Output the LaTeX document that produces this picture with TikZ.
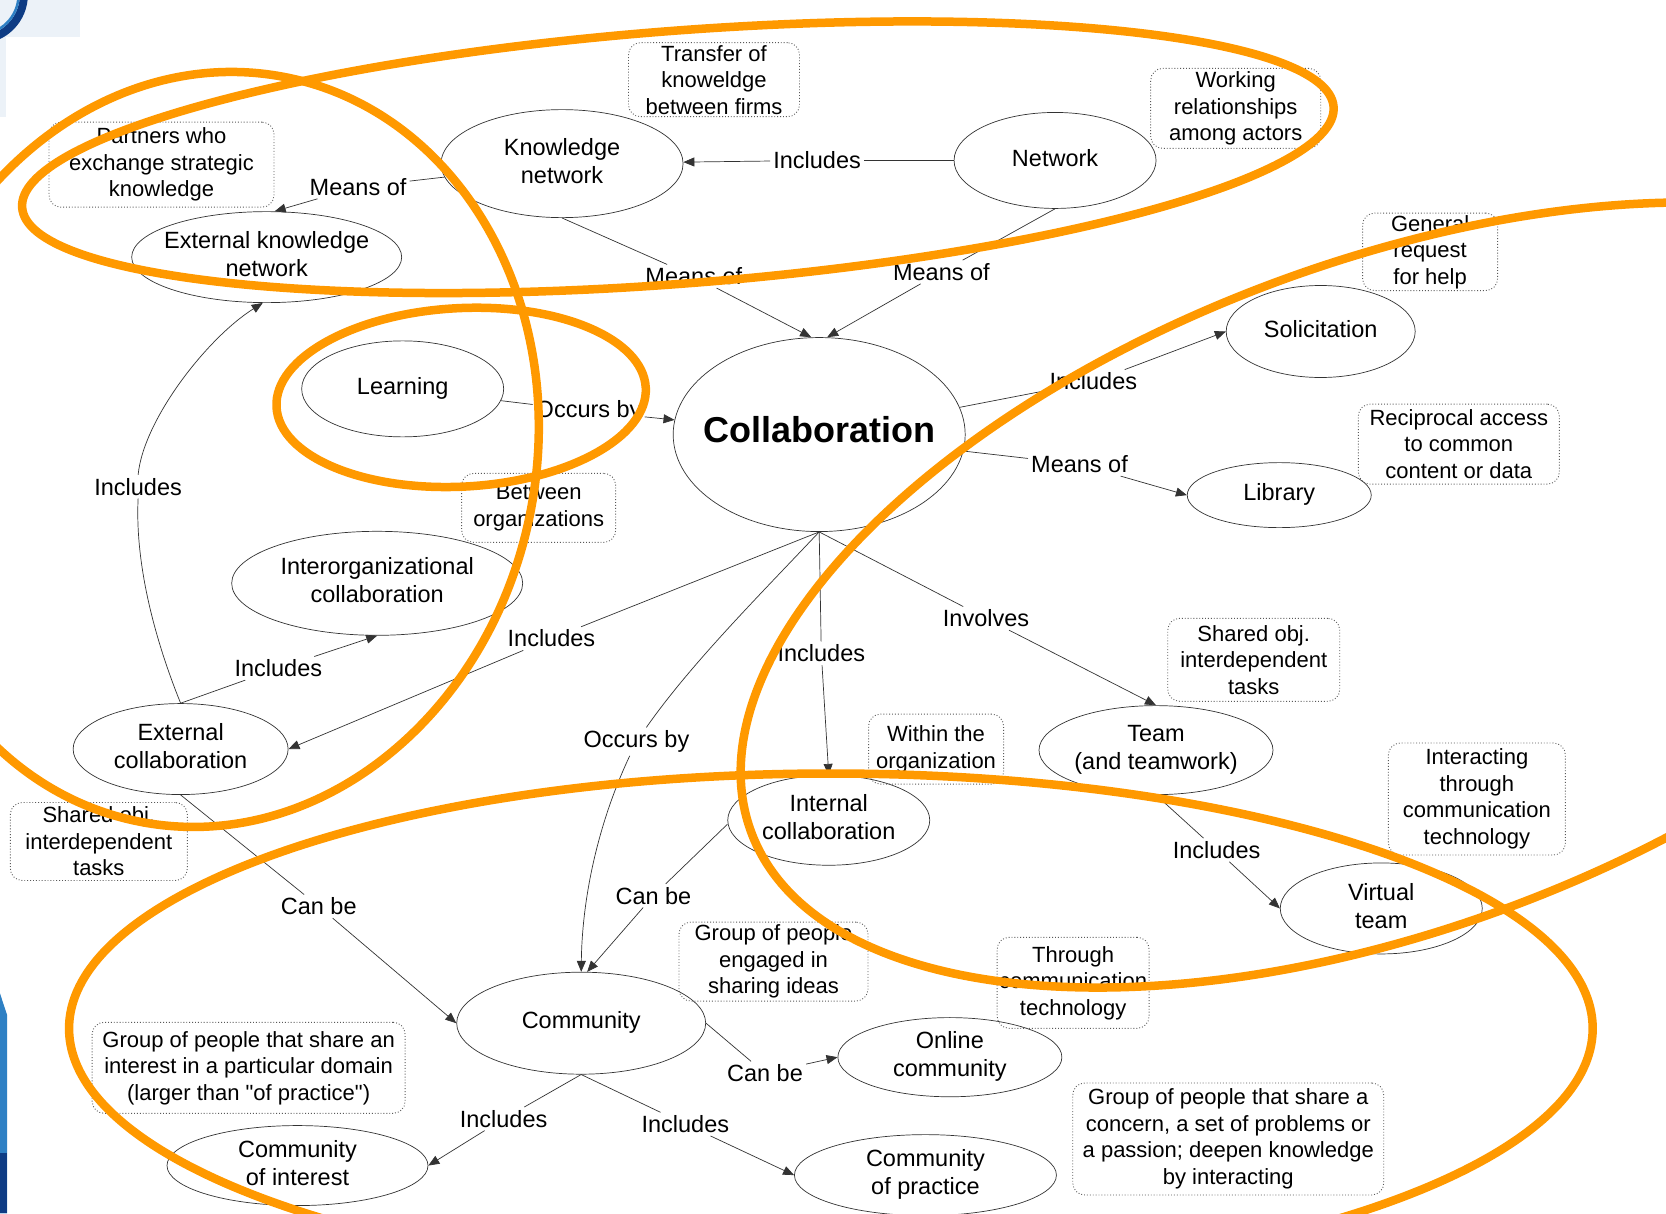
\documentclass[tikz,border=0pt]{standalone}
\usepackage{fontspec}
\setmainfont{Liberation Sans}[Ligatures=TeXOff]
\usetikzlibrary{shapes.geometric,arrows.meta}
\definecolor{hl}{RGB}{255,153,0}
\definecolor{navy}{RGB}{14,60,132}
\definecolor{midblue}{RGB}{46,128,196}
\definecolor{paleblue}{RGB}{236,242,248}
% centred multi-line text of zero width, so the ellipse keeps its set size
\newcommand{\ntext}[1]{\makebox[0pt]{\begin{tabular}{@{}c@{}}#1\end{tabular}}}

\begin{document}
\begin{tikzpicture}[x=1.0625pt,y=-1.0625pt,
  concept/.style={ellipse, draw=black!80, line width=0.7pt, inner sep=0pt,
    font=\fontsize{23.5}{28}\selectfont},
  note/.style={draw=black!65, dotted, line width=0.9pt, rounded corners=12pt,
    align=center, inner sep=2pt, font=\fontsize{22}{26.5}\selectfont},
  lbl/.style={inner sep=3pt, font=\fontsize{23.5}{27}\selectfont},
  conn/.style={draw=black!80, line width=0.7pt},
  arr/.style={conn, -{Triangle[length=11pt,width=9pt]}},
  ring/.style={draw=hl, line width=8.5pt}
]
\useasboundingbox (0,0) rectangle (1568,1142);
\clip (0,0) rectangle (1568,1142);
\fill[white] (0,0) rectangle (1568,1142);

% slide decorations at the left border
\fill[paleblue] (0,0) rectangle (75,35);
\fill[paleblue] (0,35) rectangle (6,110);
\draw[navy, line width=8pt] (-20,-5) circle[radius=42.5];
\draw[midblue, line width=2.5pt] (-20,-5) circle[radius=37.5];
\fill[midblue] (0,935) -- (6.6,955) -- (6.6,1142) -- (0,1142) -- cycle;
\fill[navy] (0,1085) rectangle (6.6,1142);

% concepts
\node[concept, minimum width=242pt, minimum height=108pt] (kn) at (529,154) {\ntext{Knowledge\\network}};
\node[concept, minimum width=202pt, minimum height=96pt] (network) at (993,151) {\ntext{Network}};
\node[concept, minimum width=270pt, minimum height=91pt] (ekn) at (251,242) {\ntext{External knowledge\\network}};
\node[concept, minimum width=202pt, minimum height=96pt] (learning) at (379,366) {\ntext{Learning}};
\node[concept, minimum width=292pt, minimum height=194pt,
  font=\fontsize{36}{40}\selectfont\bfseries] (collab) at (771,409) {\ntext{Collaboration}};
\node[concept, minimum width=189pt, minimum height=92pt] (solic) at (1243,312) {\ntext{Solicitation}};
\node[concept, minimum width=184pt, minimum height=65pt] (library) at (1204,466) {\ntext{Library}};
\node[concept, minimum width=291pt, minimum height=104pt] (interorg) at (355,549) {\ntext{Interorganizational\\collaboration}};
\node[concept, minimum width=215pt, minimum height=91pt] (extc) at (170,705) {\ntext{External\\collaboration}};
\node[concept, minimum width=202pt, minimum height=90pt] (internal) at (780,772) {\ntext{Internal\\collaboration}};
\node[concept, minimum width=234pt, minimum height=89pt] (team) at (1088,706) {\ntext{Team\\(and teamwork)}};
\node[concept, minimum width=202pt, minimum height=91pt] (vteam) at (1300,855) {\ntext{Virtual\\team}};
\node[concept, minimum width=249pt, minimum height=102pt] (community) at (547,963) {\ntext{Community}};
\node[concept, minimum width=224pt, minimum height=70pt] (online) at (894,995) {\ntext{Online\\community}};
\node[concept, minimum width=261pt, minimum height=80pt] (coi) at (280,1097) {\ntext{Community\\of interest}};
\node[concept, minimum width=262pt, minimum height=81pt] (cop) at (871,1106) {\ntext{Community\\of practice}};

% definitions
\node[note, minimum width=171pt, minimum height=74pt] (ntransfer) at (672,75) {Transfer of\\knoweldge\\between firms};
\node[note, minimum width=225pt, minimum height=85pt] (npartners) at (152,155) {Partners who\\exchange strategic\\knowledge};
\node[note, minimum width=170pt, minimum height=80pt] (nworking) at (1163,102) {Working\\relationships\\among actors};
\node[note, minimum width=135pt, minimum height=74pt] (ngeneral) at (1346,237) {General\\request\\for help};
\node[note, minimum width=201pt, minimum height=80pt] (nrecip) at (1373,418) {Reciprocal access\\to common\\content or data};
\node[note, minimum width=154pt, minimum height=69pt] (nbetween) at (507,478) {Between\\organizations};
\node[note, minimum width=172pt, minimum height=83pt] (nshareda) at (1180,621) {Shared obj.\\interdependent\\tasks};
\node[note, minimum width=135pt, minimum height=70pt] (nwithin) at (881,705) {Within the\\organization};
\node[note, minimum width=177pt, minimum height=112pt] (ninteract) at (1390,752) {Interacting\\through\\communication\\technology};
\node[note, minimum width=177pt, minimum height=78pt] (nsharedb) at (93,792) {Shared obj.\\interdependent\\tasks};
\node[note, minimum width=189pt, minimum height=79pt] (nengaged) at (728,905) {Group of people\\engaged in\\sharing ideas};
\node[note, minimum width=149pt, minimum height=91pt] (nthrough) at (1010,925) {Through\\communication\\technology};
\node[note, minimum width=313pt, minimum height=91pt] (ninterest) at (234,1005) {Group of people that share an\\interest in a particular domain\\(larger than "of practice")};
\node[note, minimum width=311pt, minimum height=112pt] (nconcern) at (1156,1072) {Group of people that share a\\concern, a set of problems or\\a passion; deepen knowledge\\by interacting};

% link labels
\node[lbl] (lincA) at (769,151) {Includes};
\node[lbl] (lmoA) at (337,176) {Means of};
\node[lbl] (lmoB) at (653,260) {Means of};
\node[lbl] (lmoC) at (886,256) {Means of};
\node[lbl] (lobA) at (554,387) {Occurs by};
\node[lbl] (lincB) at (1029,359) {Includes};
\node[lbl] (lmoD) at (1016,437) {Means of};
\node[lbl] (lincC) at (130,458) {Includes};
\node[lbl] (lincD) at (519,601) {Includes};
\node[lbl] (lincE) at (262,629) {Includes};
\node[lbl] (linv) at (928,582) {Involves};
\node[lbl] (lincF) at (773,615) {Includes};
\node[lbl] (lobB) at (599,698) {Occurs by};
\node[lbl] (lcbA) at (615,843) {Can be};
\node[lbl] (lcbB) at (300,853) {Can be};
\node[lbl] (lincG) at (1145,800) {Includes};
\node[lbl] (lcbC) at (720,1010) {Can be};
\node[lbl] (lincH) at (474,1053) {Includes};
\node[lbl] (lincI) at (645,1058) {Includes};

% links
\draw[conn] (network) -- (lincA);  \draw[arr] (lincA) -- (kn);
\draw[conn] (kn) -- (lmoA);        \draw[arr] (lmoA) -- ([xshift=8pt]ekn.north);
\draw[conn] (kn.south) -- (lmoB);  \draw[arr] (lmoB) -- ([xshift=-8pt]collab.north);
\draw[conn] (network.south) -- (lmoC); \draw[arr] (lmoC) -- ([xshift=8pt]collab.north);
\draw[conn] (learning) -- (lobA);  \draw[arr] (lobA) -- (collab);
\draw[conn] (collab) -- (lincB);   \draw[arr] (lincB) -- (solic.west);
\draw[conn] (collab) -- (lmoD);    \draw[arr] (lmoD) -- (library.west);
\draw[conn] (extc.north) .. controls (145,600) and (127,530) .. (lincC.south);
\draw[arr] (lincC.north) .. controls (135,395) and (195,318) .. ([xshift=-4pt]ekn.south);
\draw[conn] (collab.south) -- (lincD); \draw[arr] (lincD) -- (extc.east);
\draw[conn] (extc.north) -- (lincE);   \draw[arr] (lincE) -- (interorg.south);
\draw[conn] (collab.south) -- (linv);  \draw[arr] (linv) -- (team.north);
\draw[conn] (collab.south) -- (lincF); \draw[arr] (lincF) -- (internal.north);
\draw[conn] (collab.south) .. controls (715,560) and (650,625) .. (lobB);
\draw[arr] (lobB) .. controls (565,770) and (548,840) .. (community.north);
\draw[conn] ([yshift=-4pt]internal.west) -- (lcbA); \draw[arr] (lcbA) -- ([xshift=6pt]community.north);
\draw[conn] (extc.south) -- (lcbB);    \draw[arr] (lcbB) -- (community.west);
\draw[conn] (team.south) -- (lincG);   \draw[arr] (lincG) -- (vteam.west);
\draw[conn] (community.east) -- (lcbC); \draw[arr] (lcbC) -- (online.west);
\draw[conn] (community.south) -- (lincH); \draw[arr] (lincH) -- (coi.east);
\draw[conn] (community.south) -- (lincI); \draw[arr] (lincI) -- (cop.west);

% highlighted groupings
\draw[ring, rotate around={4.4:(638,148)}] (638,148) ellipse [x radius=619, y radius=119];
\draw[ring, rotate around={-11:(200,423)}] (200,423) ellipse [x radius=305, y radius=357];
\draw[ring, rotate around={3:(434,374)}] (434,374) ellipse [x radius=174, y radius=84];
\draw[ring, rotate around={20.3:(1310,560)}] (1310,560) ellipse [x radius=643, y radius=314];
\draw[ring] (782,968) ellipse [x radius=717, y radius=240];
\end{tikzpicture}
\end{document}
